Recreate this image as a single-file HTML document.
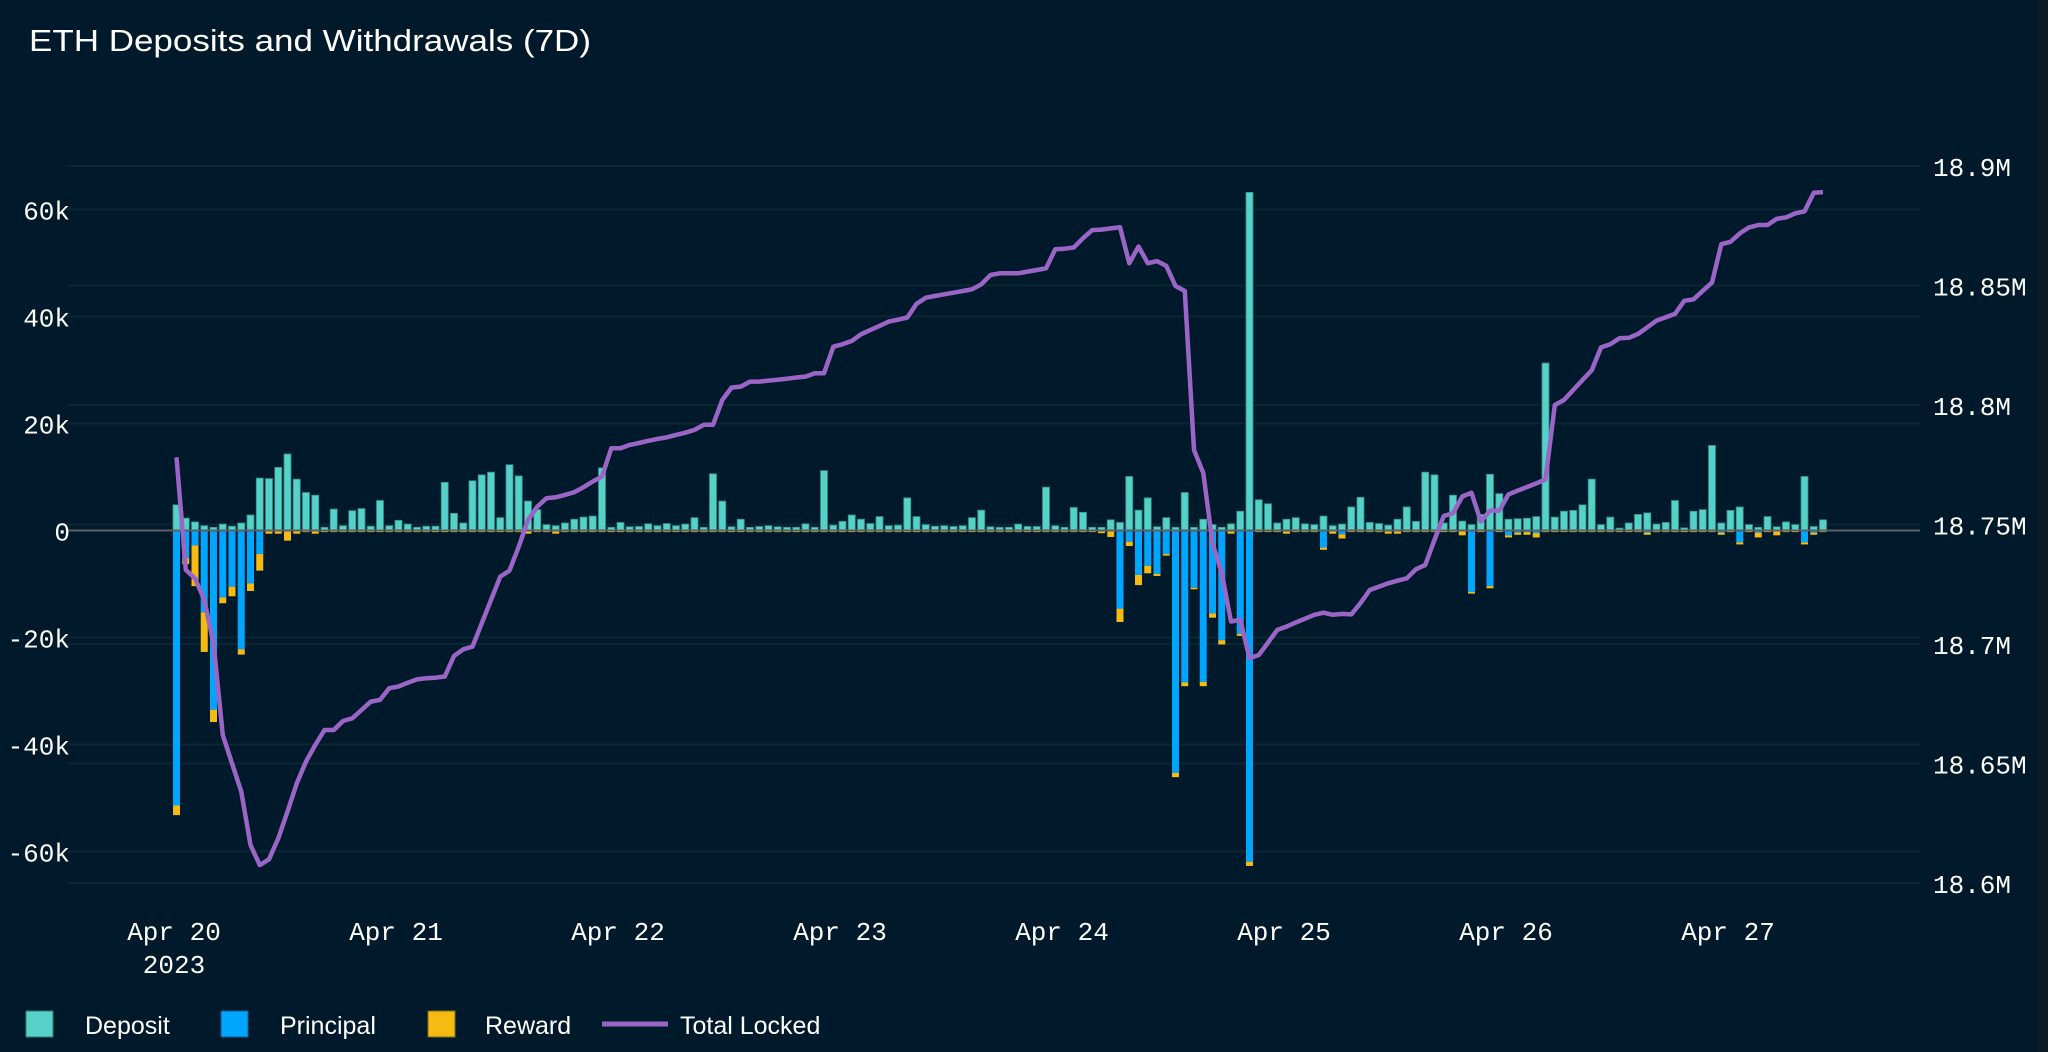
<!DOCTYPE html>
<html><head><meta charset="utf-8"><title>ETH Deposits and Withdrawals (7D)</title>
<style>
html,body{margin:0;padding:0;background:#011a2b;}
svg{display:block;}
</style></head>
<body>
<svg id="chart" width="2048" height="1052" viewBox="0 0 2048 1052" xmlns="http://www.w3.org/2000/svg">
<rect width="2048" height="1052" fill="#011a2b"/>
<rect x="2037" y="0" width="11" height="1052" fill="#0b1b26"/>
<text x="29" y="51" fill="#ffffff" font-family="Liberation Sans, sans-serif" font-size="31" textLength="562" lengthAdjust="spacingAndGlyphs">ETH Deposits and Withdrawals (7D)</text>
<g id="grid"></g>
<g id="bars"></g>
<line x1="67" x2="1920" y1="530.5" y2="530.5" stroke="#5a5f63" stroke-width="2"/>
<g id="line"></g>
<g id="axes"></g>
<g font-family="Liberation Sans, sans-serif" font-size="25" fill="#ffffff">
  <g><rect x="26" y="1011" width="27" height="26" fill="#55d1c7" stroke="#2b7f7c" stroke-width="1"/><text x="85" y="1034">Deposit</text></g>
  <g><rect x="221" y="1011" width="27" height="26" fill="#00a5ff" stroke="#0a5f8f" stroke-width="1"/><text x="280" y="1034">Principal</text></g>
  <g><rect x="428" y="1011" width="27" height="26" fill="#f6bb12" stroke="#8a6a10" stroke-width="1"/><text x="485" y="1034">Reward</text></g>
  <g><line x1="602" x2="668" y1="1024" y2="1024" stroke="#9b65c6" stroke-width="5"/><text x="680" y="1034">Total Locked</text></g>
</g>
</svg>
<script>
const leftTicks = [60, 40, 20, 0, -20, -40, -60];
const leftTickLabels = ["60k", "40k", "20k", "0", "-20k", "-40k", "-60k"];
const rightTicks = [18.9, 18.85, 18.8, 18.75, 18.7, 18.65, 18.6];
const rightTickLabels = ["18.9M", "18.85M", "18.8M", "18.75M", "18.7M", "18.65M", "18.6M"];
const dayTicks = [0, 1, 2, 3, 4, 5, 6, 7];
const dayTickLabels = ["Apr 20", "Apr 21", "Apr 22", "Apr 23", "Apr 24", "Apr 25", "Apr 26", "Apr 27"];
const deposit = [
4.8,2.3,1.6,0.9,0.6,1.2,0.8,1.4,2.9,9.8,
9.7,11.8,14.3,9.6,7.1,6.6,0.6,4.0,0.9,3.7,
4.1,0.8,5.6,0.9,1.9,1.2,0.6,0.8,0.8,9.0,
3.2,1.4,9.3,10.4,10.9,2.4,12.3,10.2,5.5,3.9,
1.1,0.9,1.4,2.1,2.5,2.7,11.7,0.6,1.5,0.7,
0.75,1.25,0.9,1.3,0.9,1.2,2.4,0.6,10.6,5.5,
0.7,2.1,0.6,0.75,0.9,0.7,0.6,0.6,1.25,0.6,
11.2,1.0,1.7,2.9,2.1,1.3,2.6,0.9,1.0,6.1,
2.6,1.1,0.8,0.9,0.75,0.9,2.4,3.8,0.7,0.6,
0.6,1.2,0.75,0.75,8.1,0.9,0.6,4.3,3.4,0.6,
0.6,2.0,1.5,10.1,3.8,6.1,0.7,2.4,0.6,7.1,
0.6,2.1,1.1,0.6,1.25,3.6,63.2,5.75,5.0,1.4,
2.1,2.4,1.25,1.1,2.7,0.9,1.2,4.4,6.2,1.5,
1.3,1.0,2.1,4.4,1.7,10.9,10.4,1.4,6.6,1.75,
1.1,3.0,10.5,6.9,2.1,2.2,2.3,2.6,31.3,2.5,
3.6,3.75,4.8,9.6,1.1,2.5,0.45,1.4,3.0,3.3,
1.2,1.5,5.6,0.5,3.6,3.9,15.9,1.4,3.75,4.4,
1.1,0.6,2.6,0.7,1.6,1.1,10.1,0.75,2.0];
const principal = [
-51.4,-5.2,-2.8,-15.3,-33.5,-12.5,-10.5,-22.2,-9.9,-4.4,
0,0,0,0,0,0,0,0,0,0,
0,0,0,0,0,0,0,0,0,0,
0,0,0,0,0,0,0,0,0,0,
0,0,0,0,0,0,0,0,0,0,
0,0,0,0,0,0,0,0,0,0,
0,0,0,0,0,0,0,0,0,0,
0,0,0,0,0,0,0,0,0,0,
0,0,0,0,0,0,0,0,0,0,
0,0,0,0,0,0,0,0,0,0,
-0.2,0,-14.6,-2.1,-8.3,-6.6,-8.1,-4.4,-45.3,-28.4,
-10.7,-28.3,-15.5,-20.5,-0.2,-19.3,-61.9,0,0,0,
-0.2,0,0,0,-3.2,0,-0.7,0,0,0,
0,0,0,0,0,0,0,0,0,0,
-11.5,0,-10.4,0,-0.9,-0.4,-0.3,-0.5,0,0,
0,0,0,0,0,0,0,0,0,-0.4,
0,0,0,0,0,0,0,-0.4,0,-2.2,
0,-0.4,0,0,0,0,-2.2,-0.4,0];
const reward = [
-1.8,-1.1,-7.6,-7.4,-2.3,-1.1,-1.8,-1.0,-1.4,-3.1,
-0.6,-0.6,-1.9,-0.6,-0.3,-0.6,-0.3,-0.3,-0.3,-0.3,
-0.3,-0.3,-0.3,-0.3,-0.3,-0.3,-0.3,-0.3,-0.3,-0.3,
-0.3,-0.3,-0.3,-0.3,-0.3,-0.3,-0.3,-0.3,-0.6,-0.3,
-0.3,-0.6,-0.3,-0.3,-0.3,-0.3,-0.3,-0.3,-0.3,-0.3,
-0.3,-0.3,-0.3,-0.3,-0.3,-0.3,-0.3,-0.3,-0.3,-0.3,
-0.3,-0.3,-0.3,-0.3,-0.3,-0.3,-0.3,-0.3,-0.3,-0.3,
-0.3,-0.3,-0.3,-0.3,-0.3,-0.3,-0.3,-0.3,-0.3,-0.3,
-0.3,-0.3,-0.3,-0.3,-0.3,-0.3,-0.3,-0.3,-0.3,-0.3,
-0.3,-0.3,-0.3,-0.3,-0.3,-0.3,-0.3,-0.3,-0.3,-0.3,
-0.3,-1.2,-2.5,-0.8,-1.9,-1.4,-0.4,-0.3,-0.8,-0.7,
-0.3,-0.8,-0.8,-0.8,-0.4,-0.4,-0.8,-0.3,-0.3,-0.3,
-0.4,-0.3,-0.3,-0.3,-0.4,-0.6,-0.8,-0.3,-0.3,-0.3,
-0.3,-0.6,-0.6,-0.3,-0.3,-0.3,-0.3,-0.3,-0.3,-0.9,
-0.3,-0.3,-0.4,-0.3,-0.4,-0.4,-0.5,-0.8,-0.3,-0.3,
-0.3,-0.3,-0.3,-0.3,-0.3,-0.3,-0.3,-0.3,-0.3,-0.4,
-0.3,-0.3,-0.3,-0.3,-0.3,-0.3,-0.3,-0.4,-0.3,-0.4,
-0.3,-0.9,-0.3,-0.9,-0.3,-0.3,-0.4,-0.4,-0.3];
const totalLocked = [
18.7781,18.7310,18.7275,18.7184,18.7003,18.6619,18.6501,18.6382,18.6159,18.6075,
18.6099,18.6187,18.6299,18.6417,18.6508,18.6578,18.6640,18.6640,18.6678,18.6689,
18.6724,18.6759,18.6766,18.6815,18.6822,18.6838,18.6852,18.6857,18.6859,18.6864,
18.6950,18.6978,18.6989,18.7087,18.7184,18.7282,18.7307,18.7408,18.7519,18.7575,
18.7610,18.7614,18.7624,18.7635,18.7656,18.7680,18.7701,18.7819,18.7819,18.7833,
18.7841,18.7850,18.7858,18.7865,18.7875,18.7884,18.7896,18.7917,18.7917,18.8021,
18.8073,18.8077,18.8098,18.8098,18.8102,18.8106,18.8110,18.8115,18.8119,18.8133,
18.8133,18.8244,18.8254,18.8268,18.8296,18.8314,18.8331,18.8349,18.8357,18.8366,
18.8423,18.8449,18.8456,18.8463,18.8470,18.8477,18.8484,18.8505,18.8544,18.8551,
18.8551,18.8551,18.8558,18.8565,18.8572,18.8652,18.8654,18.8659,18.8698,18.8732,
18.8734,18.8739,18.8744,18.8593,18.8663,18.8593,18.8602,18.8582,18.8498,18.8477,
18.7812,18.7715,18.7422,18.7296,18.7094,18.7101,18.6940,18.6954,18.7006,18.7059,
18.7073,18.7090,18.7106,18.7122,18.7131,18.7122,18.7126,18.7124,18.7171,18.7226,
18.7240,18.7254,18.7265,18.7275,18.7313,18.7331,18.7436,18.7536,18.7547,18.7617,
18.7633,18.7512,18.7558,18.7558,18.7626,18.7642,18.7657,18.7672,18.7689,18.8000,
18.8021,18.8063,18.8104,18.8146,18.8241,18.8254,18.8279,18.8281,18.8297,18.8325,
18.8353,18.8367,18.8381,18.8436,18.8442,18.8478,18.8512,18.8673,18.8683,18.8718,
18.8743,18.8753,18.8753,18.8779,18.8785,18.8802,18.8810,18.8888,18.8891];

const NS = "http://www.w3.org/2000/svg";
const X0 = 174, PX_PER_DAY = 222;
function xDay(d) { return X0 + d * PX_PER_DAY; }
function xHour(i) { return X0 + 2.5 + i * PX_PER_DAY / 24; }
function yL(k) { return 530.5 - k * 5.35; }
function yR(m) { return 166 + (18.9 - m) / 0.05 * 119.5; }
function mk(tag, attrs, parent) {
  const el = document.createElementNS(NS, tag);
  for (const k in attrs) el.setAttribute(k, attrs[k]);
  parent.appendChild(el);
  return el;
}
const grid = document.getElementById('grid');
const bars = document.getElementById('bars');
const lineG = document.getElementById('line');
const axes = document.getElementById('axes');

leftTicks.forEach((t, i) => {
  const g = mk('line', {x1: 67, x2: 1920, y1: yL(t), y2: yL(t), stroke: '#0b2533', 'stroke-width': 2}, grid);
  
  
  const tx = mk('text', {x: 70, y: yL(t) + 10, fill: '#ffffff', 'font-family': 'Liberation Mono, monospace', 'font-size': 26, 'text-anchor': 'end'}, axes);
  tx.textContent = leftTickLabels[i];
  
  
});
rightTicks.forEach((t, i) => {
  const g = mk('line', {x1: 67, x2: 1920, y1: yR(t), y2: yR(t), stroke: '#0b2533', 'stroke-width': 2}, grid);
  
  
  const tx = mk('text', {x: 1933, y: yR(t) + 10, fill: '#ffffff', 'font-family': 'Liberation Mono, monospace', 'font-size': 26}, axes);
  tx.textContent = rightTickLabels[i];
  
  
});
dayTicks.forEach((d, i) => {
  const tx = mk('text', {x: xDay(d), y: 940, fill: '#ffffff', 'font-family': 'Liberation Mono, monospace', 'font-size': 26, 'text-anchor': 'middle'}, axes);
  tx.textContent = dayTickLabels[i];
  
  
});
const yr = mk('text', {x: xDay(0), y: 973, fill: '#ffffff', 'font-family': 'Liberation Mono, monospace', 'font-size': 26, 'text-anchor': 'middle'}, axes);
yr.textContent = '2023';



const BW = 7;
deposit.forEach((v, i) => {
  const cx = xHour(i);
  const r = mk('rect', {x: cx - BW / 2, y: yL(v), width: BW, height: yL(0) - yL(v), fill: '#55d1c7', stroke: '#2f8f8a', 'stroke-width': 0.8}, bars);
  
  
  const p = principal[i];
  if (p < 0) {
    const rp = mk('rect', {x: cx - BW / 2, y: yL(0), width: BW, height: yL(p) - yL(0), fill: '#00a5ff'}, bars);
    
    
  }
  const w = reward[i];
  if (w < 0) {
    const rw = mk('rect', {x: cx - BW / 2, y: yL(p), width: BW, height: yL(p + w) - yL(p), fill: '#f6bb12'}, bars);
    
    
  }
});
const pts = totalLocked.map((v, i) => xHour(i).toFixed(1) + ',' + yR(v).toFixed(1)).join(' ');
const pl = mk('polyline', {points: pts, fill: 'none', stroke: '#9b65c6', 'stroke-width': 4.5, 'stroke-linejoin': 'round'}, lineG);


</script>
</body></html>
